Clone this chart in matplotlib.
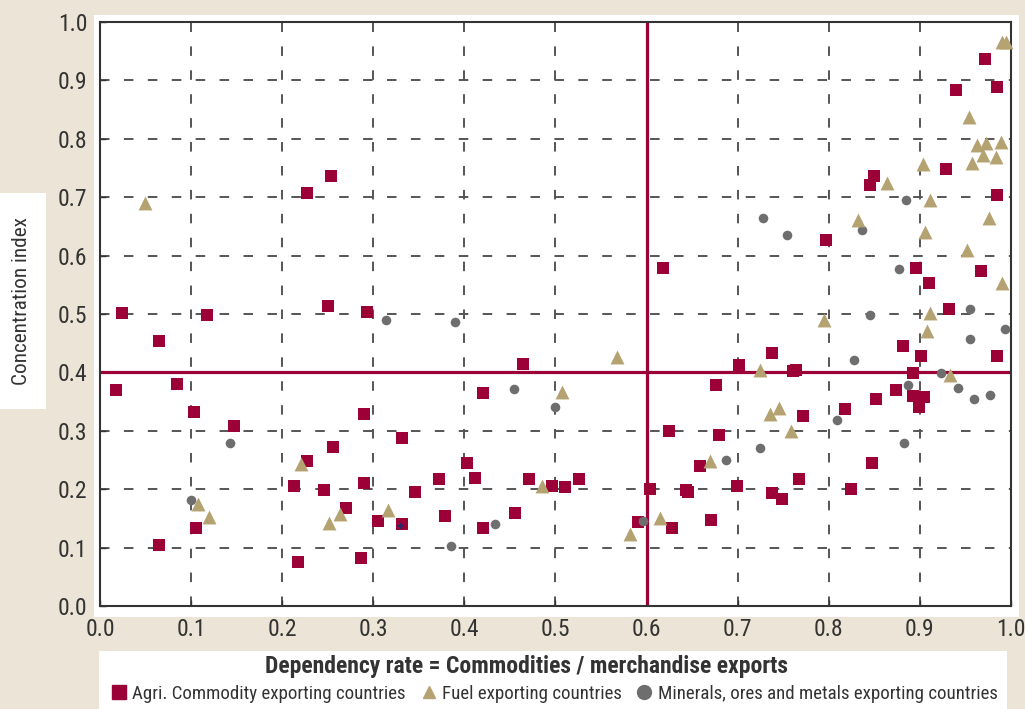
import matplotlib
matplotlib.use("Agg")
import matplotlib.pyplot as plt
from matplotlib import font_manager as fm
from matplotlib.lines import Line2D
from matplotlib.patches import Rectangle

# the original uses a condensed grotesque; take a narrow face if one is installed
installed = {f.name for f in fm.fontManager.ttflist}
narrow = None
for name in ['Roboto Condensed', 'Liberation Sans Narrow', 'Open Sans Condensed',
             'Noto Sans Condensed', 'Arial Narrow']:
    if name in installed:
        narrow = name
        break

if narrow:
    plt.rcParams['font.family'] = [narrow, 'DejaVu Sans']
    sz_tick, sz_ylab, sz_title, sz_leg = 17, 15.3, 17, 13.6
else:
    plt.rcParams['font.family'] = ['Liberation Sans', 'DejaVu Sans']
    sz_tick, sz_ylab, sz_title, sz_leg = 15, 14, 14.5, 12.3

# dependency rate (x) / concentration index (y)
agri_x = [0.024, 0.117, 0.250, 0.293, 0.253, 0.227, 0.065, 0.018, 0.085, 0.103,
          0.147, 0.290, 0.256, 0.227, 0.213, 0.246, 0.290, 0.105, 0.065, 0.270,
          0.305, 0.217, 0.287, 0.464, 0.420, 0.331, 0.403, 0.372, 0.412, 0.346,
          0.471, 0.496, 0.510, 0.526, 0.332, 0.379, 0.420, 0.456, 0.591, 0.618,
          0.797, 0.738, 0.701, 0.761, 0.764, 0.676, 0.772, 0.625, 0.679, 0.659,
          0.604, 0.643, 0.646, 0.699, 0.767, 0.738, 0.749, 0.628, 0.671, 0.971,
          0.940, 0.985, 0.929, 0.850, 0.845, 0.985, 0.896, 0.967, 0.910, 0.932,
          0.882, 0.901, 0.985, 0.893, 0.874, 0.892, 0.904, 0.899, 0.852, 0.818,
          0.847, 0.824]
agri_y = [0.501, 0.498, 0.514, 0.503, 0.737, 0.707, 0.453, 0.370, 0.380, 0.332,
          0.308, 0.328, 0.272, 0.249, 0.205, 0.198, 0.211, 0.133, 0.104, 0.167,
          0.146, 0.075, 0.083, 0.414, 0.364, 0.287, 0.244, 0.217, 0.219, 0.195,
          0.217, 0.205, 0.203, 0.217, 0.140, 0.154, 0.133, 0.159, 0.143, 0.578,
          0.627, 0.434, 0.412, 0.402, 0.404, 0.378, 0.325, 0.299, 0.292, 0.240,
          0.200, 0.198, 0.195, 0.205, 0.217, 0.193, 0.183, 0.133, 0.148, 0.936,
          0.883, 0.889, 0.748, 0.737, 0.720, 0.704, 0.578, 0.574, 0.553, 0.508,
          0.446, 0.428, 0.428, 0.399, 0.369, 0.359, 0.357, 0.340, 0.354, 0.337,
          0.244, 0.200]

fuel_x = [0.049, 0.221, 0.107, 0.120, 0.263, 0.251, 0.316, 0.568, 0.507, 0.485,
          0.582, 0.795, 0.724, 0.735, 0.745, 0.758, 0.670, 0.615, 0.990, 0.995,
          0.954, 0.963, 0.973, 0.989, 0.969, 0.984, 0.957, 0.903, 0.864, 0.911,
          0.832, 0.976, 0.906, 0.952, 0.990, 0.911, 0.908, 0.933]
fuel_y = [0.690, 0.243, 0.175, 0.152, 0.157, 0.142, 0.164, 0.427, 0.367, 0.205,
          0.124, 0.489, 0.404, 0.329, 0.339, 0.299, 0.249, 0.150, 0.966, 0.965,
          0.838, 0.789, 0.792, 0.795, 0.773, 0.769, 0.758, 0.756, 0.724, 0.695,
          0.661, 0.664, 0.641, 0.610, 0.553, 0.501, 0.471, 0.396]

min_x = [0.143, 0.100, 0.314, 0.390, 0.454, 0.499, 0.434, 0.385, 0.596, 0.728,
         0.754, 0.724, 0.687, 0.885, 0.837, 0.877, 0.845, 0.955, 0.955, 0.993,
         0.828, 0.923, 0.887, 0.942, 0.959, 0.977, 0.809, 0.883]
min_y = [0.279, 0.182, 0.490, 0.487, 0.372, 0.341, 0.140, 0.102, 0.146, 0.665,
         0.636, 0.271, 0.250, 0.696, 0.644, 0.577, 0.499, 0.509, 0.457, 0.474,
         0.422, 0.399, 0.378, 0.373, 0.355, 0.362, 0.318, 0.279]

# small stray marker visible in the original
other_x = [0.330]
other_y = [0.137]

x_threshold = 0.6
y_threshold = 0.4
ticks = [i / 10 for i in range(11)]

red = '#9b0037'
tan = '#b5a271'
grey = '#6e6e6e'
text_col = '#333333'
bg = '#ece4d6'

fig = plt.figure(figsize=(10.25, 7.09), dpi=100, facecolor=bg)

# white panels behind plot, y label and legend
fig.patches.append(Rectangle((0.0917, 0.1298), 0.9024, 0.849, transform=fig.transFigure,
                             facecolor='white', edgecolor='none', zorder=-1))
fig.patches.append(Rectangle((0.0, 0.423), 0.0449, 0.305, transform=fig.transFigure,
                             facecolor='white', edgecolor='none', zorder=-1))
fig.patches.append(Rectangle((0.0966, 0.0), 0.886, 0.0818, transform=fig.transFigure,
                             facecolor='white', edgecolor='none', zorder=-1))

ax = fig.add_axes([0.0976, 0.1453, 0.8887, 0.8237])
ax.set_facecolor('white')
ax.set_xlim(0, 1)
ax.set_ylim(0, 1)
ax.set_xticks(ticks)
ax.set_yticks(ticks)
ax.set_xticklabels([f"{t:.1f}" for t in ticks])
ax.set_yticklabels([f"{t:.1f}" for t in ticks])
ax.tick_params(labelsize=sz_tick, labelcolor=text_col, color='#333333', direction='in',
               length=4, width=1, pad=9)
# nudge the last x label so it stays on the canvas
ax.get_xticklabels()[-1].set_x(0.997)

ax.grid(True, color='#555555', linewidth=1.4, linestyle=(0, (4.9, 7.4)), zorder=0)
ax.set_axisbelow(True)
for s in ax.spines.values():
    s.set_color('#333333')
    s.set_linewidth(1.5)

ax.axvline(x_threshold, color=red, linewidth=2.3, zorder=1)
ax.axhline(y_threshold, color=red, linewidth=2.3, zorder=1)

ax.scatter(agri_x, agri_y, marker='s', s=64, color=red, linewidths=0, zorder=3, clip_on=False)
ax.scatter(min_x, min_y, marker='o', s=48, color=grey, linewidths=0, zorder=4, clip_on=False)
ax.scatter(fuel_x, fuel_y, marker='^', s=100, color=tan, linewidths=0, zorder=5, clip_on=False)
ax.scatter(other_x, other_y, marker='P', s=14, color='#1c2a6e', linewidths=0, zorder=6)

fig.text(22 / 1025, 1 - 301 / 709, "Concentration index", rotation=90, ha='center',
         va='center', fontsize=sz_ylab, color=text_col)

fig.text(0.514, 1 - 667 / 709, "Dependency rate = Commodities / merchandise exports",
         ha='center', va='center', fontsize=sz_title, fontweight='bold', color=text_col)

handles = [
    Line2D([], [], linestyle='none', marker='s', markersize=10, color=red),
    Line2D([], [], linestyle='none', marker='^', markersize=9, color=tan),
    Line2D([], [], linestyle='none', marker='o', markersize=10, color=grey),
]
labels = ["Agri. Commodity exporting countries", "Fuel exporting countries",
          "Minerals, ores and metals exporting countries"]
fig.legend(handles, labels, loc='center', bbox_to_anchor=(0.541, 1 - 694 / 709), ncol=3,
           frameon=False, fontsize=sz_leg, handlelength=0.8, handletextpad=0.3,
           columnspacing=0.8, borderaxespad=0, borderpad=0, labelcolor=text_col)

fig.savefig("out.png", dpi=100, facecolor=bg)
